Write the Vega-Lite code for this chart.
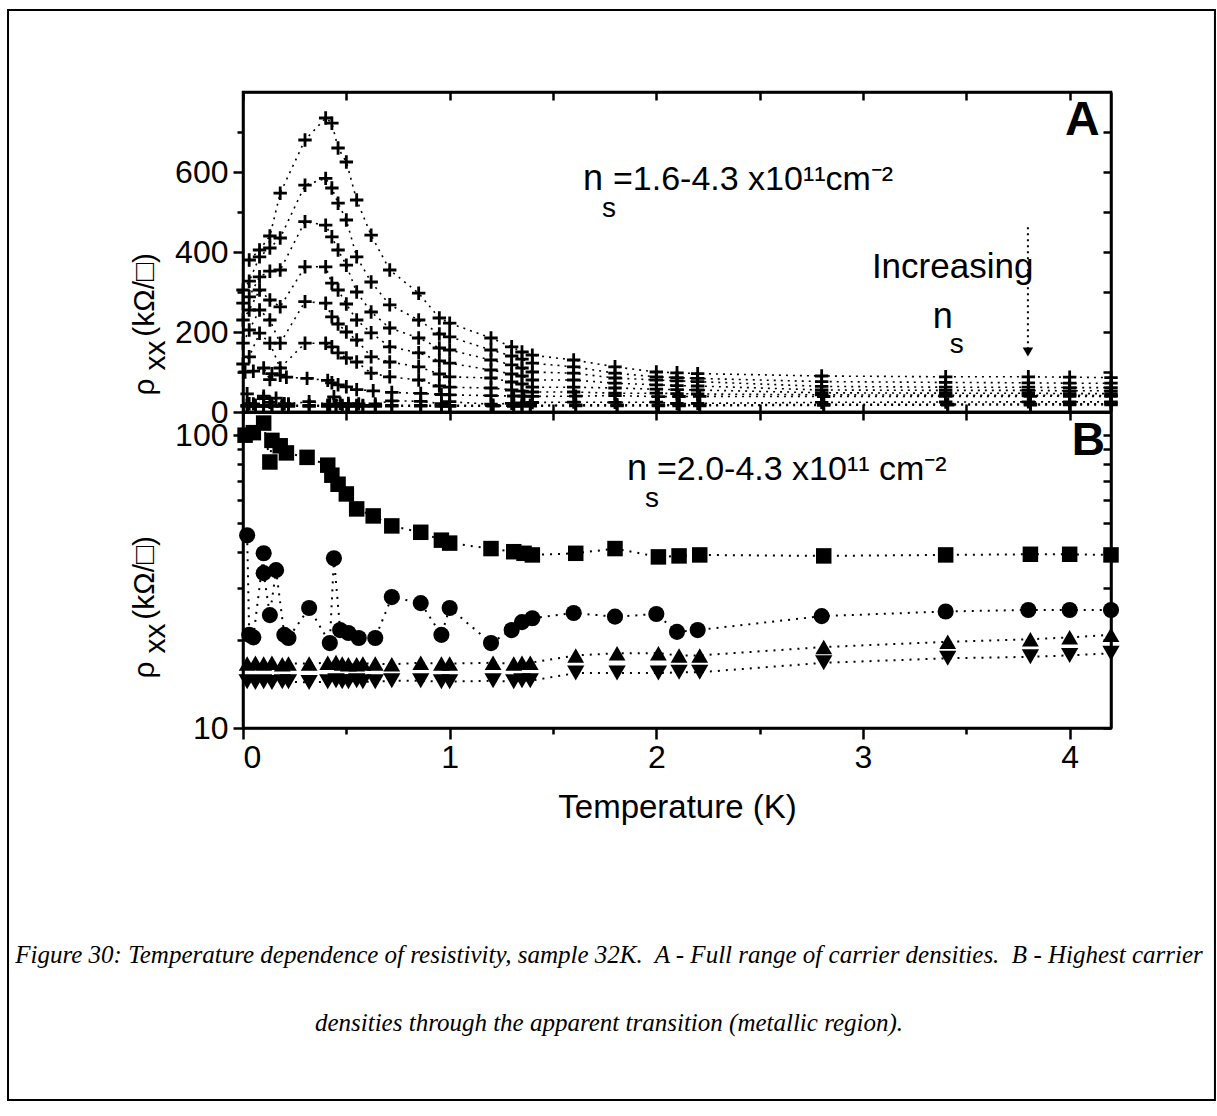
{
  "$schema": "https://vega.github.io/schema/vega-lite/v6.json",
  "background": "white",
  "padding": {"left": 5, "top": 7, "right": 1, "bottom": 1},
  "spacing": 0,
  "bounds": "flush",
  "datasets": {
    "rho": [
      {"s":"A1","i":1,"T":0.03,"r":380},{"s":"A1","i":2,"T":0.08,"r":405},{"s":"A1","i":3,"T":0.13,"r":440},{"s":"A1","i":4,"T":0.18,"r":547},{"s":"A1","i":5,"T":0.3,"r":680},{"s":"A1","i":6,"T":0.4,"r":735},{"s":"A1","i":7,"T":0.43,"r":722},{"s":"A1","i":8,"T":0.46,"r":660},{"s":"A1","i":9,"T":0.5,"r":625},{"s":"A1","i":10,"T":0.55,"r":530},{"s":"A1","i":11,"T":0.62,"r":442},{"s":"A1","i":12,"T":0.71,"r":355},{"s":"A1","i":13,"T":0.85,"r":297},{"s":"A1","i":14,"T":0.95,"r":235},{"s":"A1","i":15,"T":1.0,"r":222},{"s":"A1","i":16,"T":1.2,"r":185},{"s":"A1","i":17,"T":1.3,"r":163},{"s":"A1","i":18,"T":1.35,"r":150},{"s":"A1","i":19,"T":1.4,"r":142},{"s":"A1","i":20,"T":1.6,"r":130},{"s":"A1","i":21,"T":1.8,"r":113},{"s":"A1","i":22,"T":2.0,"r":100},{"s":"A1","i":23,"T":2.1,"r":98},{"s":"A1","i":24,"T":2.2,"r":96},{"s":"A1","i":25,"T":2.8,"r":90},{"s":"A1","i":26,"T":3.4,"r":88},{"s":"A1","i":27,"T":3.8,"r":88},{"s":"A1","i":28,"T":4.0,"r":87},{"s":"A1","i":29,"T":4.2,"r":86},
      {"s":"A2","i":1,"T":0.0,"r":305},{"s":"A2","i":2,"T":0.03,"r":327},{"s":"A2","i":3,"T":0.08,"r":388},{"s":"A2","i":4,"T":0.13,"r":410},{"s":"A2","i":5,"T":0.18,"r":435},{"s":"A2","i":6,"T":0.3,"r":567},{"s":"A2","i":7,"T":0.4,"r":584},{"s":"A2","i":8,"T":0.43,"r":560},{"s":"A2","i":9,"T":0.46,"r":522},{"s":"A2","i":10,"T":0.5,"r":480},{"s":"A2","i":11,"T":0.55,"r":388},{"s":"A2","i":12,"T":0.62,"r":325},{"s":"A2","i":13,"T":0.71,"r":268},{"s":"A2","i":14,"T":0.85,"r":230},{"s":"A2","i":15,"T":0.95,"r":195},{"s":"A2","i":16,"T":1.0,"r":188},{"s":"A2","i":17,"T":1.2,"r":155},{"s":"A2","i":18,"T":1.3,"r":140},{"s":"A2","i":19,"T":1.35,"r":132},{"s":"A2","i":20,"T":1.4,"r":122},{"s":"A2","i":21,"T":1.6,"r":113},{"s":"A2","i":22,"T":1.8,"r":97},{"s":"A2","i":23,"T":2.0,"r":88},{"s":"A2","i":24,"T":2.1,"r":86},{"s":"A2","i":25,"T":2.2,"r":84},{"s":"A2","i":26,"T":2.8,"r":76},{"s":"A2","i":27,"T":3.4,"r":74},{"s":"A2","i":28,"T":3.8,"r":73},{"s":"A2","i":29,"T":4.0,"r":72},{"s":"A2","i":30,"T":4.2,"r":72},
      {"s":"A3","i":1,"T":0.0,"r":272},{"s":"A3","i":2,"T":0.03,"r":288},{"s":"A3","i":3,"T":0.08,"r":338},{"s":"A3","i":4,"T":0.13,"r":352},{"s":"A3","i":5,"T":0.18,"r":355},{"s":"A3","i":6,"T":0.3,"r":476},{"s":"A3","i":7,"T":0.4,"r":467},{"s":"A3","i":8,"T":0.43,"r":438},{"s":"A3","i":9,"T":0.46,"r":405},{"s":"A3","i":10,"T":0.5,"r":367},{"s":"A3","i":11,"T":0.55,"r":300},{"s":"A3","i":12,"T":0.62,"r":250},{"s":"A3","i":13,"T":0.71,"r":210},{"s":"A3","i":14,"T":0.85,"r":185},{"s":"A3","i":15,"T":0.95,"r":160},{"s":"A3","i":16,"T":1.0,"r":155},{"s":"A3","i":17,"T":1.2,"r":130},{"s":"A3","i":18,"T":1.3,"r":118},{"s":"A3","i":19,"T":1.35,"r":110},{"s":"A3","i":20,"T":1.4,"r":100},{"s":"A3","i":21,"T":1.6,"r":97},{"s":"A3","i":22,"T":1.8,"r":85},{"s":"A3","i":23,"T":2.0,"r":80},{"s":"A3","i":24,"T":2.1,"r":78},{"s":"A3","i":25,"T":2.2,"r":76},{"s":"A3","i":26,"T":2.8,"r":64},{"s":"A3","i":27,"T":3.4,"r":62},{"s":"A3","i":28,"T":3.8,"r":62},{"s":"A3","i":29,"T":4.0,"r":61},{"s":"A3","i":30,"T":4.2,"r":61},
      {"s":"A4","i":1,"T":0.0,"r":230},{"s":"A4","i":2,"T":0.03,"r":255},{"s":"A4","i":3,"T":0.08,"r":305},{"s":"A4","i":4,"T":0.13,"r":280},{"s":"A4","i":5,"T":0.18,"r":263},{"s":"A4","i":6,"T":0.3,"r":363},{"s":"A4","i":7,"T":0.4,"r":363},{"s":"A4","i":8,"T":0.43,"r":322},{"s":"A4","i":9,"T":0.46,"r":305},{"s":"A4","i":10,"T":0.5,"r":270},{"s":"A4","i":11,"T":0.55,"r":230},{"s":"A4","i":12,"T":0.62,"r":198},{"s":"A4","i":13,"T":0.71,"r":163},{"s":"A4","i":14,"T":0.85,"r":148},{"s":"A4","i":15,"T":0.95,"r":128},{"s":"A4","i":16,"T":1.0,"r":122},{"s":"A4","i":17,"T":1.2,"r":105},{"s":"A4","i":18,"T":1.3,"r":95},{"s":"A4","i":19,"T":1.35,"r":90},{"s":"A4","i":20,"T":1.4,"r":80},{"s":"A4","i":21,"T":1.6,"r":80},{"s":"A4","i":22,"T":1.8,"r":72},{"s":"A4","i":23,"T":2.0,"r":68},{"s":"A4","i":24,"T":2.1,"r":66},{"s":"A4","i":25,"T":2.2,"r":65},{"s":"A4","i":26,"T":2.8,"r":55},{"s":"A4","i":27,"T":3.4,"r":54},{"s":"A4","i":28,"T":3.8,"r":54},{"s":"A4","i":29,"T":4.0,"r":53},{"s":"A4","i":30,"T":4.2,"r":53},
      {"s":"A5","i":1,"T":0.0,"r":172},{"s":"A5","i":2,"T":0.03,"r":205},{"s":"A5","i":3,"T":0.08,"r":255},{"s":"A5","i":4,"T":0.13,"r":230},{"s":"A5","i":5,"T":0.18,"r":172},{"s":"A5","i":6,"T":0.3,"r":276},{"s":"A5","i":7,"T":0.4,"r":272},{"s":"A5","i":8,"T":0.43,"r":238},{"s":"A5","i":9,"T":0.46,"r":220},{"s":"A5","i":10,"T":0.5,"r":200},{"s":"A5","i":11,"T":0.55,"r":180},{"s":"A5","i":12,"T":0.62,"r":138},{"s":"A5","i":13,"T":0.71,"r":125},{"s":"A5","i":14,"T":0.85,"r":113},{"s":"A5","i":15,"T":0.95,"r":95},{"s":"A5","i":16,"T":1.0,"r":88},{"s":"A5","i":17,"T":1.2,"r":85},{"s":"A5","i":18,"T":1.3,"r":75},{"s":"A5","i":19,"T":1.35,"r":70},{"s":"A5","i":20,"T":1.4,"r":62},{"s":"A5","i":21,"T":1.6,"r":62},{"s":"A5","i":22,"T":1.8,"r":60},{"s":"A5","i":23,"T":2.0,"r":57},{"s":"A5","i":24,"T":2.1,"r":56},{"s":"A5","i":25,"T":2.2,"r":55},{"s":"A5","i":26,"T":2.8,"r":48},{"s":"A5","i":27,"T":3.4,"r":47},{"s":"A5","i":28,"T":3.8,"r":47},{"s":"A5","i":29,"T":4.0,"r":46},{"s":"A5","i":30,"T":4.2,"r":46},
      {"s":"A6","i":1,"T":0.0,"r":120},{"s":"A6","i":2,"T":0.03,"r":138},{"s":"A6","i":3,"T":0.08,"r":197},{"s":"A6","i":4,"T":0.13,"r":172},{"s":"A6","i":5,"T":0.18,"r":110},{"s":"A6","i":6,"T":0.3,"r":172},{"s":"A6","i":7,"T":0.4,"r":172},{"s":"A6","i":8,"T":0.43,"r":163},{"s":"A6","i":9,"T":0.46,"r":148},{"s":"A6","i":10,"T":0.5,"r":135},{"s":"A6","i":11,"T":0.55,"r":125},{"s":"A6","i":12,"T":0.62,"r":97},{"s":"A6","i":13,"T":0.71,"r":88},{"s":"A6","i":14,"T":0.85,"r":80},{"s":"A6","i":15,"T":0.95,"r":65},{"s":"A6","i":16,"T":1.0,"r":62},{"s":"A6","i":17,"T":1.2,"r":60},{"s":"A6","i":18,"T":1.3,"r":55},{"s":"A6","i":19,"T":1.35,"r":52},{"s":"A6","i":20,"T":1.4,"r":50},{"s":"A6","i":21,"T":1.6,"r":50},{"s":"A6","i":22,"T":1.8,"r":47},{"s":"A6","i":23,"T":2.0,"r":47},{"s":"A6","i":24,"T":2.1,"r":46},{"s":"A6","i":25,"T":2.2,"r":45},{"s":"A6","i":26,"T":2.8,"r":43},{"s":"A6","i":27,"T":3.4,"r":42},{"s":"A6","i":28,"T":3.8,"r":42},{"s":"A6","i":29,"T":4.0,"r":42},{"s":"A6","i":30,"T":4.2,"r":41},
      {"s":"sq","i":1,"T":0.01,"r":100},{"s":"sq","i":2,"T":0.05,"r":102},{"s":"sq","i":3,"T":0.1,"r":110},{"s":"sq","i":4,"T":0.13,"r":81},{"s":"sq","i":5,"T":0.14,"r":96},{"s":"sq","i":6,"T":0.18,"r":92},{"s":"sq","i":7,"T":0.21,"r":87},{"s":"sq","i":8,"T":0.31,"r":84},{"s":"sq","i":9,"T":0.41,"r":79},{"s":"sq","i":10,"T":0.43,"r":73},{"s":"sq","i":11,"T":0.46,"r":68},{"s":"sq","i":12,"T":0.5,"r":63},{"s":"sq","i":13,"T":0.55,"r":56},{"s":"sq","i":14,"T":0.63,"r":53},{"s":"sq","i":15,"T":0.72,"r":49},{"s":"sq","i":16,"T":0.86,"r":46.6},{"s":"sq","i":17,"T":0.96,"r":43.8},{"s":"sq","i":18,"T":1.0,"r":42.8},{"s":"sq","i":19,"T":1.2,"r":41},{"s":"sq","i":20,"T":1.31,"r":40},{"s":"sq","i":21,"T":1.36,"r":39.5},{"s":"sq","i":22,"T":1.4,"r":39},{"s":"sq","i":23,"T":1.61,"r":39.5},{"s":"sq","i":24,"T":1.8,"r":41},{"s":"sq","i":25,"T":2.01,"r":38.4},{"s":"sq","i":26,"T":2.11,"r":38.7},{"s":"sq","i":27,"T":2.21,"r":39},{"s":"sq","i":28,"T":2.81,"r":38.7},{"s":"sq","i":29,"T":3.4,"r":39},{"s":"sq","i":30,"T":3.81,"r":39.2},{"s":"sq","i":31,"T":4.0,"r":39.2},{"s":"sq","i":32,"T":4.2,"r":39},
      {"s":"ci","i":1,"T":0.02,"r":45.5},{"s":"ci","i":2,"T":0.03,"r":20.8},{"s":"ci","i":3,"T":0.05,"r":20.4},{"s":"ci","i":4,"T":0.1,"r":39.5},{"s":"ci","i":5,"T":0.1,"r":33.8},{"s":"ci","i":6,"T":0.13,"r":24.3},{"s":"ci","i":7,"T":0.16,"r":34.6},{"s":"ci","i":8,"T":0.2,"r":20.8},{"s":"ci","i":9,"T":0.22,"r":20.3},{"s":"ci","i":10,"T":0.32,"r":25.7},{"s":"ci","i":11,"T":0.42,"r":19.5},{"s":"ci","i":12,"T":0.44,"r":38},{"s":"ci","i":13,"T":0.47,"r":21.6},{"s":"ci","i":14,"T":0.51,"r":21.1},{"s":"ci","i":15,"T":0.56,"r":20.3},{"s":"ci","i":16,"T":0.64,"r":20.3},{"s":"ci","i":17,"T":0.72,"r":28},{"s":"ci","i":18,"T":0.86,"r":26.7},{"s":"ci","i":19,"T":0.96,"r":20.8},{"s":"ci","i":20,"T":1.0,"r":25.7},{"s":"ci","i":21,"T":1.2,"r":19.5},{"s":"ci","i":22,"T":1.3,"r":21.6},{"s":"ci","i":23,"T":1.35,"r":23},{"s":"ci","i":24,"T":1.4,"r":23.7},{"s":"ci","i":25,"T":1.6,"r":24.7},{"s":"ci","i":26,"T":1.8,"r":24},{"s":"ci","i":27,"T":2.0,"r":24.5},{"s":"ci","i":28,"T":2.1,"r":21.3},{"s":"ci","i":29,"T":2.2,"r":21.6},{"s":"ci","i":30,"T":2.8,"r":24.1},{"s":"ci","i":31,"T":3.4,"r":25},{"s":"ci","i":32,"T":3.8,"r":25.3},{"s":"ci","i":33,"T":4.0,"r":25.3},{"s":"ci","i":34,"T":4.2,"r":25.3},
      {"s":"up","i":1,"T":0.02,"r":16.6},{"s":"up","i":2,"T":0.06,"r":16.7},{"s":"up","i":3,"T":0.1,"r":16.6},{"s":"up","i":4,"T":0.14,"r":16.7},{"s":"up","i":5,"T":0.19,"r":16.5},{"s":"up","i":6,"T":0.22,"r":16.6},{"s":"up","i":7,"T":0.32,"r":16.6},{"s":"up","i":8,"T":0.41,"r":16.7},{"s":"up","i":9,"T":0.45,"r":16.8},{"s":"up","i":10,"T":0.48,"r":16.6},{"s":"up","i":11,"T":0.51,"r":16.5},{"s":"up","i":12,"T":0.55,"r":16.5},{"s":"up","i":13,"T":0.58,"r":16.6},{"s":"up","i":14,"T":0.64,"r":16.6},{"s":"up","i":15,"T":0.72,"r":16.5},{"s":"up","i":16,"T":0.86,"r":16.7},{"s":"up","i":17,"T":0.96,"r":16.6},{"s":"up","i":18,"T":1.0,"r":16.6},{"s":"up","i":19,"T":1.21,"r":16.7},{"s":"up","i":20,"T":1.31,"r":16.6},{"s":"up","i":21,"T":1.35,"r":16.7},{"s":"up","i":22,"T":1.39,"r":16.7},{"s":"up","i":23,"T":1.61,"r":17.7},{"s":"up","i":24,"T":1.81,"r":18.0},{"s":"up","i":25,"T":2.01,"r":18.0},{"s":"up","i":26,"T":2.11,"r":17.7},{"s":"up","i":27,"T":2.21,"r":17.7},{"s":"up","i":28,"T":2.81,"r":18.9},{"s":"up","i":29,"T":3.41,"r":19.7},{"s":"up","i":30,"T":3.81,"r":20.1},{"s":"up","i":31,"T":4.0,"r":20.4},{"s":"up","i":32,"T":4.2,"r":20.8},
      {"s":"dn","i":1,"T":0.02,"r":14.4},{"s":"dn","i":2,"T":0.06,"r":14.3},{"s":"dn","i":3,"T":0.1,"r":14.4},{"s":"dn","i":4,"T":0.14,"r":14.3},{"s":"dn","i":5,"T":0.19,"r":14.4},{"s":"dn","i":6,"T":0.22,"r":14.4},{"s":"dn","i":7,"T":0.32,"r":14.3},{"s":"dn","i":8,"T":0.41,"r":14.4},{"s":"dn","i":9,"T":0.45,"r":14.5},{"s":"dn","i":10,"T":0.48,"r":14.4},{"s":"dn","i":11,"T":0.51,"r":14.4},{"s":"dn","i":12,"T":0.55,"r":14.5},{"s":"dn","i":13,"T":0.58,"r":14.4},{"s":"dn","i":14,"T":0.64,"r":14.4},{"s":"dn","i":15,"T":0.72,"r":14.5},{"s":"dn","i":16,"T":0.86,"r":14.5},{"s":"dn","i":17,"T":0.96,"r":14.4},{"s":"dn","i":18,"T":1.0,"r":14.4},{"s":"dn","i":19,"T":1.21,"r":14.5},{"s":"dn","i":20,"T":1.31,"r":14.4},{"s":"dn","i":21,"T":1.35,"r":14.5},{"s":"dn","i":22,"T":1.39,"r":14.5},{"s":"dn","i":23,"T":1.61,"r":15.4},{"s":"dn","i":24,"T":1.81,"r":15.4},{"s":"dn","i":25,"T":2.01,"r":15.4},{"s":"dn","i":26,"T":2.11,"r":15.5},{"s":"dn","i":27,"T":2.21,"r":15.5},{"s":"dn","i":28,"T":2.81,"r":16.7},{"s":"dn","i":29,"T":3.41,"r":17.3},{"s":"dn","i":30,"T":3.81,"r":17.5},{"s":"dn","i":31,"T":4.0,"r":17.7},{"s":"dn","i":32,"T":4.2,"r":18.0}
    ]
  },
  "vconcat": [
    {
      "width": 868,
      "height": 320,
      "data": {"name": "rho"},
      "layer": [
        {
          "data": {"values": [{}]},
          "mark": {"type": "rect", "filled": false, "stroke": "black", "strokeWidth": 2},
          "encoding": {
            "x": {"datum": -1.137, "type": "quantitative", "axis": null},
            "x2": {"datum": 4.703},
            "y": {"datum": 1005, "type": "quantitative", "axis": null},
            "y2": {"datum": -1720}
          }
        },
        {
          "mark": {"type": "line", "strokeDash": [2, 5], "strokeWidth": 1.6, "color": "black"},
          "encoding": {
            "x": {"field": "T", "type": "quantitative", "scale": {"domain": [0, 4.2], "nice": false, "zero": false},
                  "axis": {"orient": "bottom", "values": [0, 0.5, 1, 1.5, 2, 2.5, 3, 3.5, 4], "labels": false, "tickSize": -8, "title": null}},
            "y": {"field": "r", "type": "quantitative", "scale": {"domain": [0, 800], "nice": false},
                  "axis": {"orient": "left", "values": [0, 200, 400, 600],
                           "tickSize": 10, "labelPadding": 5,
                           "title": ["ρ\u00a0\u00a0\u00a0\u00a0\u00a0(kΩ/□)", "\u200b\u00a0\u00a0\u00a0xx"],
                           "titleFontSize": 30,
                           "titleAngle": -90, "titleAlign": "left", "titleBaseline": "alphabetic",
                           "titleX": -90, "titleY": 303, "titleLineHeight": 11}},
            "detail": {"field": "s"},
            "order": {"field": "i", "type": "quantitative"}
          }
        },
        {
          "mark": {"type": "point", "shape": "M-1,0L1,0M0,-1L0,1", "filled": false, "size": 180, "strokeWidth": 2.8, "color": "black", "opacity": 1},
          "encoding": {
            "x": {"field": "T", "type": "quantitative",
                  "axis": {"orient": "top", "values": [0, 0.5, 1, 1.5, 2, 2.5, 3, 3.5, 4], "labels": false, "tickSize": -8, "title": null}},
            "y": {"field": "r", "type": "quantitative",
                  "axis": {"orient": "right", "values": [0, 100, 200, 300, 400, 500, 600, 700], "labels": false, "tickSize": -8, "title": null}}
          }
        },
        {
          "data": {"values": [{}]},
          "mark": {"type": "text", "text": "n", "align": "left", "baseline": "alphabetic", "fontSize": 36, "color": "black"},
          "encoding": {"x": {"datum": 1.645, "type": "quantitative", "axis": null}, "y": {"datum": 555, "type": "quantitative", "axis": null}}
        },
        {
          "data": {"values": [{}]},
          "mark": {"type": "text", "text": "s", "align": "left", "baseline": "alphabetic", "fontSize": 28, "color": "black"},
          "encoding": {"x": {"datum": 1.737, "type": "quantitative", "axis": null}, "y": {"datum": 487, "type": "quantitative", "axis": null}}
        },
        {
          "data": {"values": [{}]},
          "mark": {"type": "text", "text": "=1.6-4.3 x10¹¹cm⁻²", "align": "left", "baseline": "alphabetic", "fontSize": 34, "color": "black"},
          "encoding": {"x": {"datum": 1.79, "type": "quantitative", "axis": null}, "y": {"datum": 555, "type": "quantitative", "axis": null}}
        },
        {
          "data": {"values": [{}]},
          "mark": {"type": "text", "text": "Increasing", "align": "left", "baseline": "alphabetic", "fontSize": 35, "color": "black"},
          "encoding": {"x": {"datum": 3.043, "type": "quantitative", "axis": null}, "y": {"datum": 335, "type": "quantitative", "axis": null}}
        },
        {
          "data": {"values": [{}]},
          "mark": {"type": "text", "text": "n", "align": "left", "baseline": "alphabetic", "fontSize": 36, "color": "black"},
          "encoding": {"x": {"datum": 3.338, "type": "quantitative", "axis": null}, "y": {"datum": 210, "type": "quantitative", "axis": null}}
        },
        {
          "data": {"values": [{}]},
          "mark": {"type": "text", "text": "s", "align": "left", "baseline": "alphabetic", "fontSize": 28, "color": "black"},
          "encoding": {"x": {"datum": 3.42, "type": "quantitative", "axis": null}, "y": {"datum": 147, "type": "quantitative", "axis": null}}
        },
        {
          "data": {"values": [{}]},
          "mark": {"type": "rule", "strokeDash": [2, 4], "strokeWidth": 2, "color": "black"},
          "encoding": {"x": {"datum": 3.798, "type": "quantitative", "axis": null}, "y": {"datum": 462, "type": "quantitative", "axis": null}, "y2": {"datum": 155}}
        },
        {
          "data": {"values": [{}]},
          "mark": {"type": "point", "shape": "triangle-down", "filled": true, "size": 110, "color": "black", "opacity": 1},
          "encoding": {"x": {"datum": 3.798, "type": "quantitative", "axis": null}, "y": {"datum": 150, "type": "quantitative", "axis": null}}
        },
        {
          "data": {"values": [{}]},
          "mark": {"type": "text", "text": "A", "align": "left", "baseline": "alphabetic", "fontSize": 48, "fontWeight": "bold", "color": "black"},
          "encoding": {
            "x": {"datum": 3.977, "type": "quantitative", "axis": null},
            "y": {"datum": 692, "type": "quantitative",
                  "axis": {"orient": "left", "values": [100, 300, 500, 700], "labels": false, "tickSize": 6, "title": null, "domain": false}}
          }
        }
      ],
      "resolve": {"axis": {"x": "independent", "y": "independent"}}
    },
    {
      "width": 868,
      "height": 316,
      "data": {"name": "rho"},
      "transform": [{"filter": {"field": "s", "oneOf": ["sq", "ci", "up", "dn"]}}],
      "layer": [
        {
          "mark": {"type": "line", "strokeDash": [2, 6], "strokeWidth": 2, "color": "black"},
          "encoding": {
            "x": {"field": "T", "type": "quantitative", "scale": {"domain": [0, 4.2], "nice": false, "zero": false},
                  "axis": {"orient": "bottom", "values": [0, 1, 2, 3, 4], "format": "d",
                           "tickSize": 11, "labelPadding": 3, "title": "Temperature (K)", "titlePadding": 18}},
            "y": {"field": "r", "type": "quantitative", "scale": {"type": "log", "domain": [10, 120], "nice": false},
                  "axis": {"orient": "left", "values": [10, 100], "format": "d",
                           "tickSize": 10, "labelPadding": 5,
                           "title": ["ρ\u00a0\u00a0\u00a0\u00a0\u00a0(kΩ/□)", "\u200b\u00a0\u00a0\u00a0xx"],
                           "titleFontSize": 30,
                           "titleAngle": -90, "titleAlign": "left", "titleBaseline": "alphabetic",
                           "titleX": -90, "titleY": 266, "titleLineHeight": 11}},
            "detail": {"field": "s"},
            "order": {"field": "i", "type": "quantitative"}
          }
        },
        {
          "mark": {"type": "point", "filled": true, "color": "black", "opacity": 1},
          "encoding": {
            "x": {"field": "T", "type": "quantitative",
                  "axis": {"orient": "top", "values": [0, 0.5, 1, 1.5, 2, 2.5, 3, 3.5, 4], "labels": false, "tickSize": -8, "title": null}},
            "y": {"field": "r", "type": "quantitative",
                  "axis": {"orient": "right", "values": [10, 20, 30, 40, 50, 60, 70, 80, 90, 100], "labels": false, "tickSize": -8, "title": null}},
            "shape": {"field": "s", "type": "nominal", "legend": null,
                      "scale": {"domain": ["sq", "ci", "up", "dn"], "range": ["square", "circle", "triangle-up", "triangle-down"]}},
            "size": {"field": "s", "type": "nominal", "legend": null,
                     "scale": {"domain": ["sq", "ci", "up", "dn"], "range": [240, 300, 450, 450]}}
          }
        },
        {
          "data": {"values": [{}]},
          "mark": {"type": "text", "text": "n", "align": "left", "baseline": "alphabetic", "fontSize": 36, "color": "black"},
          "encoding": {
            "x": {"datum": 1.858, "type": "quantitative", "axis": null},
            "y": {"datum": 70.2, "type": "quantitative",
                  "axis": {"orient": "left", "values": [20, 30, 40, 50, 60, 70, 80, 90], "labels": false, "tickSize": 6, "title": null, "domain": false}}
          }
        },
        {
          "data": {"values": [{}]},
          "mark": {"type": "text", "text": "s", "align": "left", "baseline": "alphabetic", "fontSize": 28, "color": "black"},
          "encoding": {"x": {"datum": 1.945, "type": "quantitative", "axis": null}, "y": {"datum": 56.8, "type": "quantitative", "axis": null}}
        },
        {
          "data": {"values": [{}]},
          "mark": {"type": "text", "text": "=2.0-4.3 x10¹¹ cm⁻²", "align": "left", "baseline": "alphabetic", "fontSize": 34, "color": "black"},
          "encoding": {"x": {"datum": 2.003, "type": "quantitative", "axis": null}, "y": {"datum": 70.2, "type": "quantitative", "axis": null}}
        },
        {
          "data": {"values": [{}]},
          "mark": {"type": "text", "text": "B", "align": "left", "baseline": "alphabetic", "fontSize": 46, "fontWeight": "bold", "color": "black"},
          "encoding": {
            "x": {"datum": 4.01, "type": "quantitative",
                  "axis": {"orient": "bottom", "values": [0.5, 1.5, 2.5, 3.5], "labels": false, "tickSize": 6, "title": null, "domain": false}},
            "y": {"datum": 85.5, "type": "quantitative", "axis": null}
          }
        },
        {
          "data": {"values": [{}]},
          "mark": {"type": "text", "text": "Figure 30: Temperature dependence of resistivity, sample 32K.\u00a0 A - Full range of carrier densities.\u00a0 B - Highest carrier",
                   "align": "center", "baseline": "alphabetic", "font": "Liberation Serif", "fontStyle": "italic", "fontSize": 25, "color": "black"},
          "encoding": {"x": {"datum": 1.771, "type": "quantitative", "axis": null}, "y": {"datum": 1.578, "type": "quantitative", "axis": null}}
        },
        {
          "data": {"values": [{}]},
          "mark": {"type": "text", "text": "densities through the apparent transition (metallic region).",
                   "align": "center", "baseline": "alphabetic", "font": "Liberation Serif", "fontStyle": "italic", "fontSize": 25, "color": "black"},
          "encoding": {"x": {"datum": 1.771, "type": "quantitative", "axis": null}, "y": {"datum": 0.925, "type": "quantitative", "axis": null}}
        }
      ],
      "resolve": {"axis": {"x": "independent", "y": "independent"}}
    }
  ],
  "config": {
    "font": "Liberation Sans",
    "view": {"stroke": "black", "strokeWidth": 2.5},
    "axis": {
      "grid": false,
      "domainColor": "black",
      "domainWidth": 2.5,
      "tickColor": "black",
      "tickWidth": 2.5,
      "labelColor": "black",
      "labelFont": "Liberation Sans",
      "labelFontSize": 32,
      "labelFontWeight": "normal",
      "titleColor": "black",
      "titleFont": "Liberation Sans",
      "titleFontSize": 33,
      "titleFontWeight": "normal"
    }
  }
}
